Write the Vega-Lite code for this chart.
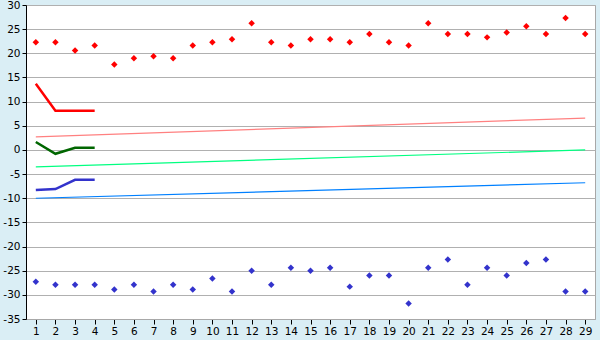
{
  "$schema": "https://vega.github.io/schema/vega-lite/v6.json",
  "width": 569,
  "height": 314,
  "autosize": {"type": "none"},
  "padding": {"left": 26, "top": 5, "right": 5, "bottom": 21},
  "background": "#daeef5",
  "config": {
    "view": {"fill": "white", "stroke": "#a8a8a8", "strokeWidth": 1},
    "axis": {"labelFont": "DejaVu Sans", "labelFontSize": 10.5, "labelColor": "#000000", "title": null, "labelOverlap": false, "labelBound": false, "labelFlush": false}
  },
  "resolve": {"scale": {"color": "independent"}},
  "encoding": {
    "x": {"field": "x", "type": "quantitative", "scale": {"domain": [0.5, 29.5], "nice": false, "zero": false},
      "axis": {"values": [1,2,3,4,5,6,7,8,9,10,11,12,13,14,15,16,17,18,19,20,21,22,23,24,25,26,27,28,29], "grid": false, "domainColor": "#a8a8a8", "tickColor": "#000000", "tickSize": 5, "labelPadding": 2}},
    "y": {"field": "y", "type": "quantitative", "scale": {"domain": [-35, 30], "nice": false, "zero": false},
      "axis": {"values": [-35,-30,-25,-20,-15,-10,-5,0,5,10,15,20,25,30], "labelExpr": "replace(datum.label, '−', '-')", "gridColor": "#b0b0b0", "gridOpacity": 1, "domainColor": "#000000", "tickColor": "#000000", "tickSize": 4, "labelPadding": 2}}
  },
  "layer": [
    {
      "data": {"values": [
        {"x": 1, "y": 2.7, "s": "ta"}, {"x": 29, "y": 6.6, "s": "ta"},
        {"x": 1, "y": -3.5, "s": "tb"}, {"x": 29, "y": 0.0, "s": "tb"},
        {"x": 1, "y": -10.0, "s": "tc"}, {"x": 29, "y": -6.8, "s": "tc"}
      ]},
      "mark": {"type": "line", "strokeWidth": 1.2},
      "encoding": {
        "color": {"field": "s", "type": "nominal", "scale": {"domain": ["ta", "tb", "tc"], "range": ["#ff8080", "#00ff80", "#0080ff"]}, "legend": null}
      }
    },
    {
      "data": {"values": [
        {"x": 1, "y": 13.7, "s": "a"}, {"x": 2, "y": 8.1, "s": "a"}, {"x": 3, "y": 8.1, "s": "a"}, {"x": 4, "y": 8.1, "s": "a"},
        {"x": 1, "y": 1.65, "s": "b"}, {"x": 2, "y": -0.8, "s": "b"}, {"x": 3, "y": 0.45, "s": "b"}, {"x": 4, "y": 0.45, "s": "b"},
        {"x": 1, "y": -8.3, "s": "c"}, {"x": 2, "y": -8.1, "s": "c"}, {"x": 3, "y": -6.2, "s": "c"}, {"x": 4, "y": -6.2, "s": "c"}
      ]},
      "mark": {"type": "line", "strokeWidth": 2.5},
      "encoding": {
        "color": {"field": "s", "type": "nominal", "scale": {"domain": ["a", "b", "c"], "range": ["#ff0000", "#006600", "#3333cc"]}, "legend": null}
      }
    },
    {
      "data": {"values": [
        {"x": 1, "y": 22.3, "s": "high"}, {"x": 2, "y": 22.3, "s": "high"}, {"x": 3, "y": 20.6, "s": "high"}, {"x": 4, "y": 21.6, "s": "high"},
        {"x": 5, "y": 17.7, "s": "high"}, {"x": 6, "y": 19.0, "s": "high"}, {"x": 7, "y": 19.4, "s": "high"}, {"x": 8, "y": 19.0, "s": "high"},
        {"x": 9, "y": 21.6, "s": "high"}, {"x": 10, "y": 22.3, "s": "high"}, {"x": 11, "y": 22.9, "s": "high"}, {"x": 12, "y": 26.2, "s": "high"},
        {"x": 13, "y": 22.3, "s": "high"}, {"x": 14, "y": 21.6, "s": "high"}, {"x": 15, "y": 22.9, "s": "high"}, {"x": 16, "y": 22.9, "s": "high"},
        {"x": 17, "y": 22.3, "s": "high"}, {"x": 18, "y": 24.0, "s": "high"}, {"x": 19, "y": 22.3, "s": "high"}, {"x": 20, "y": 21.6, "s": "high"},
        {"x": 21, "y": 26.2, "s": "high"}, {"x": 22, "y": 24.0, "s": "high"}, {"x": 23, "y": 24.0, "s": "high"}, {"x": 24, "y": 23.3, "s": "high"},
        {"x": 25, "y": 24.3, "s": "high"}, {"x": 26, "y": 25.6, "s": "high"}, {"x": 27, "y": 24.0, "s": "high"}, {"x": 28, "y": 27.3, "s": "high"},
        {"x": 29, "y": 24.0, "s": "high"},
        {"x": 1, "y": -27.3, "s": "low"}, {"x": 2, "y": -27.9, "s": "low"}, {"x": 3, "y": -27.9, "s": "low"}, {"x": 4, "y": -27.9, "s": "low"},
        {"x": 5, "y": -28.9, "s": "low"}, {"x": 6, "y": -27.9, "s": "low"}, {"x": 7, "y": -29.3, "s": "low"}, {"x": 8, "y": -27.9, "s": "low"},
        {"x": 9, "y": -28.9, "s": "low"}, {"x": 10, "y": -26.6, "s": "low"}, {"x": 11, "y": -29.3, "s": "low"}, {"x": 12, "y": -25.0, "s": "low"},
        {"x": 13, "y": -27.9, "s": "low"}, {"x": 14, "y": -24.4, "s": "low"}, {"x": 15, "y": -25.0, "s": "low"}, {"x": 16, "y": -24.4, "s": "low"},
        {"x": 17, "y": -28.3, "s": "low"}, {"x": 18, "y": -26.0, "s": "low"}, {"x": 19, "y": -26.0, "s": "low"}, {"x": 20, "y": -31.8, "s": "low"},
        {"x": 21, "y": -24.4, "s": "low"}, {"x": 22, "y": -22.7, "s": "low"}, {"x": 23, "y": -27.9, "s": "low"}, {"x": 24, "y": -24.4, "s": "low"},
        {"x": 25, "y": -26.0, "s": "low"}, {"x": 26, "y": -23.4, "s": "low"}, {"x": 27, "y": -22.7, "s": "low"}, {"x": 28, "y": -29.3, "s": "low"},
        {"x": 29, "y": -29.3, "s": "low"}
      ]},
      "mark": {"type": "point", "shape": "diamond", "filled": true, "size": 42, "opacity": 1},
      "encoding": {
        "color": {"field": "s", "type": "nominal", "scale": {"domain": ["high", "low"], "range": ["#ff0000", "#3333cc"]}, "legend": null}
      }
    }
  ]
}
